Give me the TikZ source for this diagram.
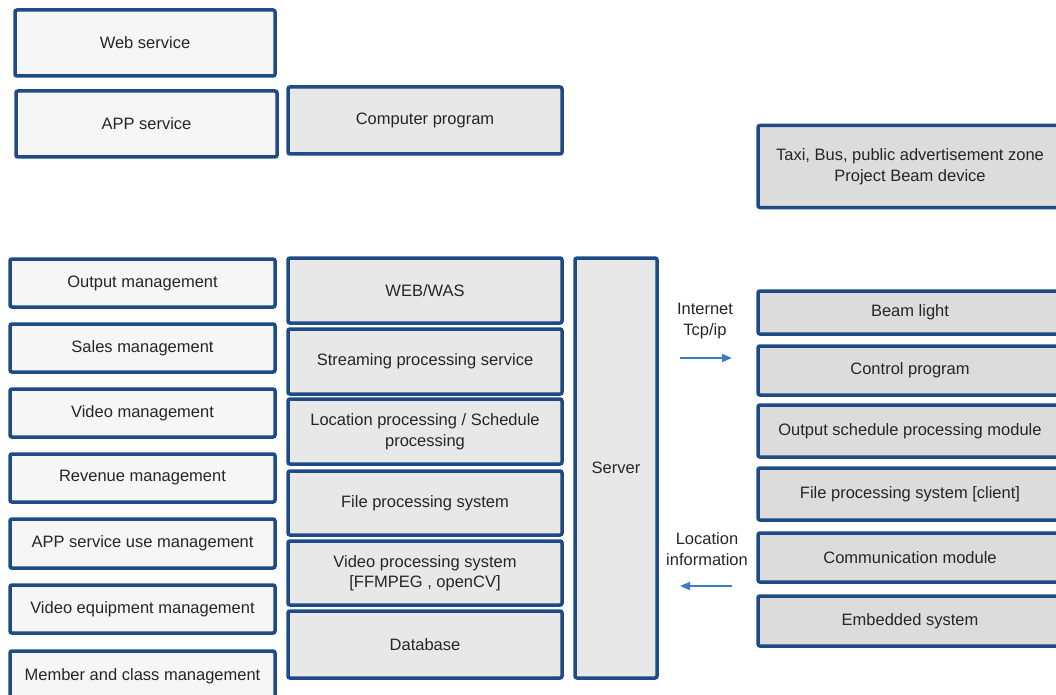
\documentclass[tikz,border=0pt]{standalone}
\usepackage{fontspec}
\setmainfont{Liberation Sans}
\usetikzlibrary{arrows.meta}
\definecolor{frameblue}{HTML}{1E4A86}
\definecolor{arrowblue}{HTML}{3C7CC4}
\definecolor{litefill}{HTML}{F6F6F6}
\definecolor{midfill}{HTML}{E8E8E8}
\definecolor{darkfill}{HTML}{DCDCDC}
\begin{document}
\begin{tikzpicture}[x=1pt, y=1pt,
    box/.style={draw=frameblue, line width=3.5pt, rounded corners=2pt, inner sep=2pt,
        align=center, text=black!85, font=\fontsize{16.5}{20.5}\selectfont},
    litebox/.style={box, fill=litefill},
    midbox/.style={box, fill=midfill},
    darkbox/.style={box, fill=darkfill},
    flow/.style={arrowblue, line width=1.8pt, -{Triangle[length=10pt, width=8pt]}},
    note/.style={align=center, text=black!85, font=\fontsize{16.5}{20.5}\selectfont}]
    \useasboundingbox (0, 0) rectangle (1056, -695);
    % services
    \node[litebox, minimum width=260, minimum height=66] (web) at (145, -43) {Web service};
    \node[litebox, minimum width=261, minimum height=66] (app) at (146.5, -124) {APP service};
    \node[midbox, minimum width=274, minimum height=67] (prog) at (425, -120.5) {Computer program};
    \node[darkbox, minimum width=304, minimum height=82] (taxi) at (910, -166.5)
        {Taxi, Bus, public advertisement zone\\Project Beam device};
    % management
    \node[litebox, minimum width=265, minimum height=48] (outm) at (142.5, -283) {Output management};
    \node[litebox, minimum width=265, minimum height=48] (salm) at (142.5, -348) {Sales management};
    \node[litebox, minimum width=265, minimum height=48] (vidm) at (142.5, -413) {Video management};
    \node[litebox, minimum width=265, minimum height=48] (revm) at (142.5, -478) {Revenue management};
    \node[litebox, minimum width=265, minimum height=49] (usem) at (142.5, -543.5) {APP service use management};
    \node[litebox, minimum width=265, minimum height=48] (equm) at (142.5, -609) {Video equipment management};
    \node[litebox, minimum width=265, minimum height=50] (memm) at (142.5, -676) {Member and class management};
    % server side
    \node[midbox, minimum width=274, minimum height=65] (was) at (425, -290.5) {WEB/WAS};
    \node[midbox, minimum width=274, minimum height=65] (stream) at (425, -361.5) {Streaming processing service};
    \node[midbox, minimum width=274, minimum height=65] (loc) at (425, -431.5)
        {Location processing / Schedule\\processing};
    \node[midbox, minimum width=274, minimum height=64] (file) at (425, -503) {File processing system};
    \node[midbox, minimum width=274, minimum height=64] (video) at (425, -573)
        {Video processing system\\{}[FFMPEG , openCV]};
    \node[midbox, minimum width=274, minimum height=67] (db) at (425, -644.5) {Database};
    \node[midbox, minimum width=82, minimum height=420] (server) at (616, -468) {Server};
    % device side
    \node[darkbox, minimum width=304, minimum height=43] (beam) at (910, -312.5) {Beam light};
    \node[darkbox, minimum width=304, minimum height=49] (ctrl) at (910, -370.5) {Control program};
    \node[darkbox, minimum width=304, minimum height=52] (sched) at (910, -431) {Output schedule processing module};
    \node[darkbox, minimum width=304, minimum height=52] (client) at (910, -494) {File processing system [client]};
    \node[darkbox, minimum width=304, minimum height=49] (comm) at (910, -557.5) {Communication module};
    \node[darkbox, minimum width=304, minimum height=50] (embed) at (910, -621) {Embedded system};
    % links
    \node[note] (inet) at (705, -321) {Internet\\Tcp/ip};
    \node[note] (locinfo) at (707, -549) {Location\\information};
    \coordinate (inA) at (680, -358);
    \coordinate (inB) at (732, -358);
    \coordinate (locA) at (732, -586);
    \coordinate (locB) at (680, -586);
    \draw[flow] (inA) -- (inB);
    \draw[flow] (locA) -- (locB);
\end{tikzpicture}
\end{document}
